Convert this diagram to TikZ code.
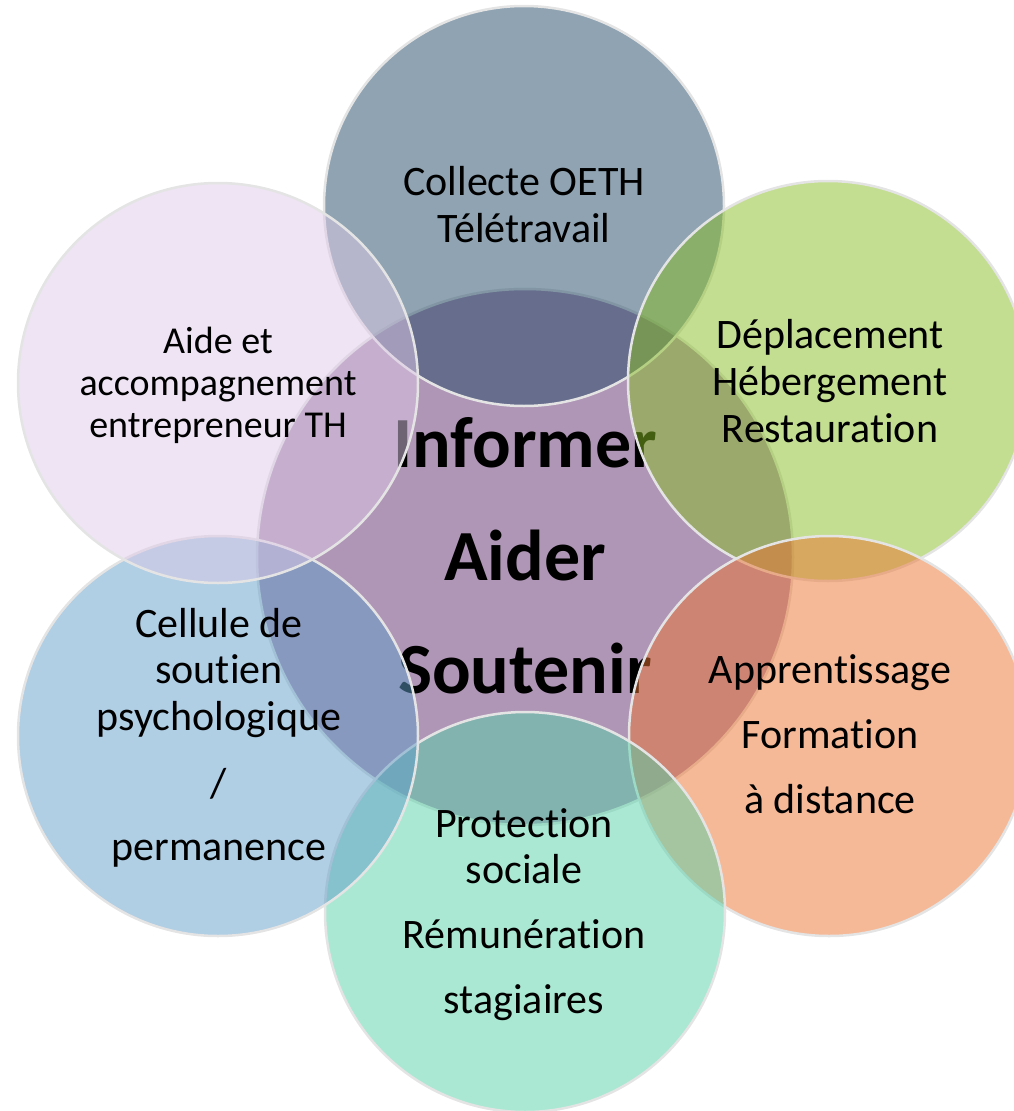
\documentclass[tikz,border=0pt]{standalone}
\usepackage{fontspec}
\setmainfont{Carlito}[Ligatures={NoCommon,NoContextual,NoRare}]
\definecolor{cCenter}{RGB}{176,150,182}
\definecolor{cTop}{RGB}{31,71,101}
\definecolor{cGreen}{RGB}{135,189,35}
\definecolor{cOrange}{RGB}{235,115,49}
\definecolor{cTeal}{RGB}{85,209,169}
\definecolor{cBlue}{RGB}{97,157,201}
\definecolor{cLav}{RGB}{221,201,231}
\definecolor{cEdge}{RGB}{228,228,228}
\begin{document}
\begin{tikzpicture}[x=1pt,y=-1pt,
  outer/.style={circle, minimum size=400pt, inner sep=0pt, fill opacity=0.5, draw opacity=1, draw=cEdge, line width=2.5pt},
  hub/.style={circle, minimum size=536pt, inner sep=0pt, fill=cCenter, draw=cEdge, line width=2.5pt},
  lbl/.style={anchor=base, inner sep=0pt, text=black, font=\fontsize{42}{47}\selectfont},
  lbls/.style={anchor=base, inner sep=0pt, text=black, font=\fontsize{38}{42}\selectfont},
  big/.style={anchor=base, inner sep=0pt, text=black, font=\bfseries\fontsize{72}{80}\selectfont}]
\useasboundingbox (0,0) rectangle (1014,1111);
\clip (0,0) rectangle (1014,1111);
% central circle and its words
\node[hub] (hubc) at (525,557) {};
\node[big] (w1) at (525,467) {Informer};
\node[big] (w2) at (525,580) {Aider};
\node[big] (w3) at (525,693) {Soutenir};
% outer circles, clockwise from top
\node[outer, fill=cTop]    (ctop)  at (524,206) {};
\node[outer, fill=cGreen]  (cgrn)  at (828,381) {};
\node[outer, fill=cOrange] (corg)  at (829,736) {};
\node[outer, fill=cTeal]   (ctea)  at (525,912) {};
\node[outer, fill=cBlue]   (cblu)  at (218,736) {};
\node[outer, fill=cLav]    (clav)  at (218,383) {};
% labels
\node[lbl] (t1) at (524,195) {Collecte OETH};
\node[lbl] (t2) at (524,242) {Télétravail};
\node[lbl] (g1) at (830,348) {Déplacement};
\node[lbl] (g2) at (830,395) {Hébergement};
\node[lbl] (g3) at (830,442) {Restauration};
\node[lbl] (o1) at (830,683) {Apprentissage};
\node[lbl] (o2) at (830,748) {Formation};
\node[lbl] (o3) at (830,813) {à distance};
\node[lbl] (s1) at (524,837) {Protection};
\node[lbl] (s2) at (524,883) {sociale};
\node[lbl] (s3) at (524,948) {Rémunération};
\node[lbl] (s4) at (524,1013) {stagiaires};
\node[lbl] (b1) at (219,637) {Cellule de};
\node[lbl] (b2) at (219,683) {soutien};
\node[lbl] (b3) at (219,730) {psychologique};
\node[lbl] (b4) at (219,797) {/};
\node[lbl] (b5) at (219,860) {permanence};
\node[lbls] (l1) at (218,353) {Aide et};
\node[lbls] (l2) at (218,395) {accompagnement};
\node[lbls] (l3) at (218,437) {entrepreneur TH};
\end{tikzpicture}
\end{document}
